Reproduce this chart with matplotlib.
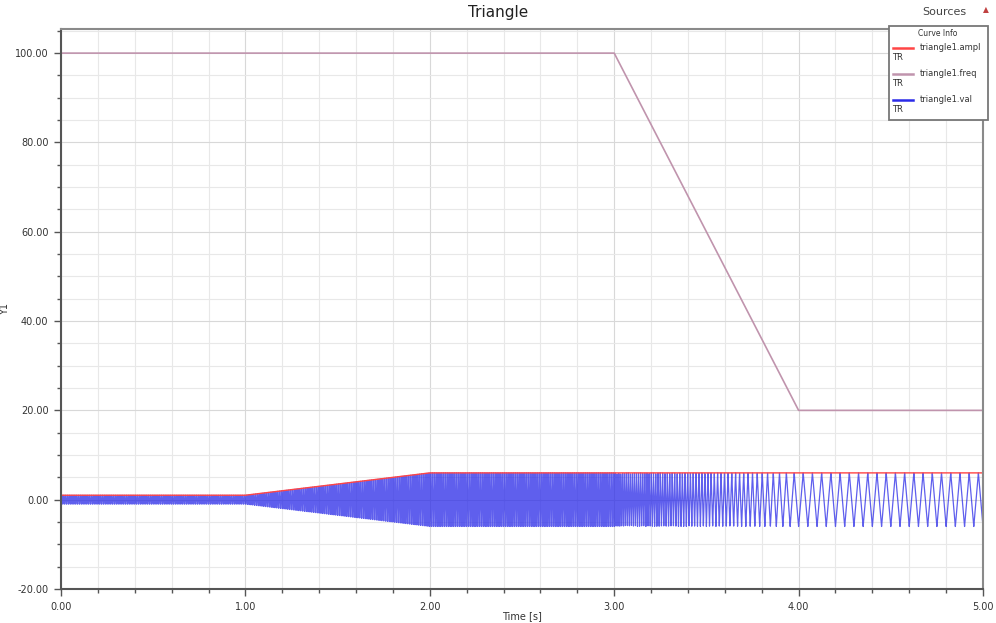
import numpy as np
import matplotlib
matplotlib.use("Agg")
import matplotlib.pyplot as plt
from matplotlib.ticker import MultipleLocator, FormatStrFormatter
from matplotlib.patches import Rectangle
from matplotlib.lines import Line2D

plt.rcParams["path.simplify"] = False

# breakpoints
ampl_t = [0.0, 1.0, 2.0, 5.0]
ampl_v = [1.0, 1.0, 6.0, 6.0]
freq_t = [0.0, 3.0, 4.0, 5.0]
freq_v = [100.0, 100.0, 20.0, 20.0]

series_names = ["triangle1.ampl", "triangle1.freq", "triangle1.val"]
series_colors = ["#ff4545", "#c094ad", "#2a2ae8"]

# triangle1.val: triangle wave driven by ampl and freq
t = np.linspace(0, 5, 25001)
amp = np.interp(t, ampl_t, ampl_v)
fr = np.interp(t, freq_t, freq_v)
phase = np.concatenate([[0], np.cumsum(0.5 * (fr[1:] + fr[:-1]) * np.diff(t))])
val = amp * (4 * np.abs(phase - np.floor(phase + 0.5)) - 1)

W, H = 996, 623
fig = plt.figure(figsize=(W / 100, H / 100), dpi=100)
ax = fig.add_axes([61 / W, 1 - 589 / H, 922 / W, 560 / H])

ax.plot(t, val, color=series_colors[2], lw=0.9, alpha=0.75)
ax.plot(ampl_t, ampl_v, color=series_colors[0], lw=1.0)
ax.plot(freq_t, freq_v, color=series_colors[1], lw=1.2)

ax.set_xlim(0, 5)
ax.set_ylim(-20, 105.4)
ax.xaxis.set_major_locator(MultipleLocator(1))
ax.xaxis.set_minor_locator(MultipleLocator(0.2))
ax.yaxis.set_major_locator(MultipleLocator(20))
ax.yaxis.set_minor_locator(MultipleLocator(5))
ax.xaxis.set_major_formatter(FormatStrFormatter("%.2f"))
ax.yaxis.set_major_formatter(FormatStrFormatter("%.2f"))
ax.grid(which="major", color="#d8d8d8", lw=0.8)
ax.grid(which="minor", color="#e8e8e8", lw=0.8)
ax.set_axisbelow(True)
ax.tick_params(which="major", length=5, width=1, color="#555555", labelsize=7,
               labelcolor="#333333", pad=4)
ax.tick_params(which="minor", length=3, width=1, color="#555555")
for s in ax.spines.values():
    s.set_color("#8a8a8a")
    s.set_linewidth(1.5)
ax.spines["left"].set_color("#555555")
ax.spines["bottom"].set_color("#555555")

ax.set_xlabel("Time [s]", fontsize=7, color="#333333")
ax.xaxis.set_label_coords(0.5, -(611 - 589) / 560)
ax.set_ylabel("Y1", fontsize=7, color="#333333")
ax.yaxis.set_label_coords(-(61 - 10) / 922, 0.5)

fig.text(0.5, 1 - 13 / H, "Triangle", ha="center", va="center", fontsize=11, color="#222222")
fig.text(944 / W, 1 - 12 / H, "Sources", ha="center", va="center", fontsize=8, color="#444444")
fig.text(986 / W, 1 - 10 / H, "\u25b2", ha="center", va="center", fontsize=5.5, color="#c04040")

# "Curve Info" box
fig.patches.append(Rectangle((889 / W, 1 - 120 / H), 99 / W, 94 / H, transform=fig.transFigure,
                             facecolor="white", edgecolor="#777777", lw=1.3, zorder=5))
fig.text(938 / W, 1 - 33 / H, "Curve Info", ha="center", va="center", fontsize=5.5, color="#333333", zorder=6)
for i, (name, col) in enumerate(zip(series_names, series_colors)):
    yy = 48 + 26 * i
    fig.lines.append(Line2D([893 / W, 913 / W], [1 - yy / H, 1 - yy / H], transform=fig.transFigure,
                            color=col, lw=1.8, zorder=6))
    fig.text(920 / W, 1 - yy / H, name, ha="left", va="center", fontsize=6, color="#333333", zorder=6)
    fig.text(892 / W, 1 - (yy + 10) / H, "TR", ha="left", va="center", fontsize=6, color="#333333", zorder=6)

fig.savefig("out.png", dpi=100)
